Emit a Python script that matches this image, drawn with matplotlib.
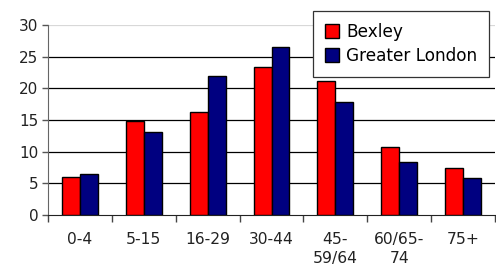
import matplotlib
matplotlib.use("Agg")
import matplotlib.pyplot as plt
import numpy as np

# Age bands and percentage of population
age_groups = ["0-4", "5-15", "16-29", "30-44", "45-\n59/64", "60/65-\n74", "75+"]
bexley = [6.0, 14.8, 16.3, 23.4, 21.2, 10.8, 7.5]
greater_london = [6.4, 13.1, 22.0, 26.6, 17.8, 8.3, 5.8]

fig = plt.figure(figsize=(4.96, 2.70), dpi=100)
ax = fig.add_axes([48 / 496, 1 - 215 / 270, 447 / 496, 190 / 270])

x = np.arange(len(age_groups))
w = 0.28
ax.bar(x - w / 2, bexley, w, color="#ff0000", edgecolor="black", linewidth=1.0,
       label="Bexley", zorder=3)
ax.bar(x + w / 2, greater_london, w, color="#000080", edgecolor="black", linewidth=1.0,
       label="Greater London", zorder=3)

ax.set_xlim(-0.5, len(age_groups) - 0.5)
ax.set_ylim(0, 30)
ax.set_yticks([0, 5, 10, 15, 20, 25, 30])
for v in [5, 10, 15, 20, 25]:
    ax.axhline(v, color="black", linewidth=0.9, zorder=1)
ax.axhline(30, color="#d8d8d8", linewidth=0.9, zorder=1)

# category labels centred, ticks on boundaries
ax.set_xticks(x)
ax.set_xticklabels(age_groups, fontsize=11.2, color="#222222", linespacing=1.4)
ax.tick_params(axis="x", length=0, pad=12)
ax.set_xticks(np.arange(-0.5, len(age_groups), 1.0), minor=True)
ax.tick_params(axis="x", which="minor", length=5, width=1, color="#444444", direction="out")
ax.tick_params(axis="y", length=4, width=1, color="#555555", labelsize=11,
               labelcolor="#222222", pad=3)

for s in ["top", "right"]:
    ax.spines[s].set_visible(False)
ax.spines["left"].set_color("#666666")
ax.spines["bottom"].set_color("#222222")

leg = fig.legend(loc="upper right", bbox_to_anchor=(489 / 496, 1 - 11 / 270),
                 fontsize=12.2, frameon=True, fancybox=False, framealpha=1,
                 handlelength=0.85, handleheight=0.85, handletextpad=0.4,
                 borderpad=0.7, labelspacing=0.35, borderaxespad=0)
leg.get_frame().set_edgecolor("#333333")
leg.get_frame().set_linewidth(0.9)

fig.savefig("out.png", dpi=100, facecolor="white")
